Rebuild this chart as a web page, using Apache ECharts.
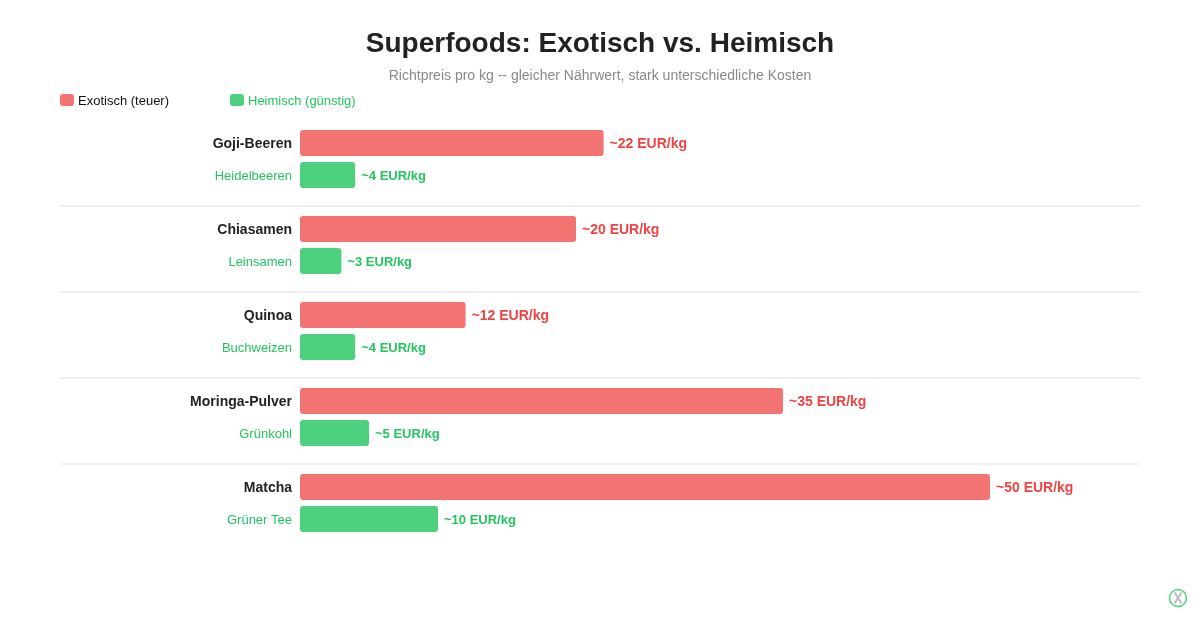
<!DOCTYPE html>
<html lang="de">
<head>
<meta charset="utf-8">
<title>Superfoods: Exotisch vs. Heimisch</title>
<script src="https://cdn.jsdelivr.net/npm/echarts@6/dist/echarts.min.js"></script>
<style>
  html, body { margin: 0; padding: 0; background: #fff; overflow: hidden; }
  #chart { width: 1200px; height: 624px; }
</style>
</head>
<body>
<div id="chart"></div>
<script>
// Preis pro kg, je Paar aus exotischem Superfood und heimischer Alternative
const exoticNames = ['Goji-Beeren', 'Chiasamen', 'Quinoa', 'Moringa-Pulver', 'Matcha'];
const exoticPrices = [22, 20, 12, 35, 50];
const localNames = ['Heidelbeeren', 'Leinsamen', 'Buchweizen', 'Grünkohl', 'Grüner Tee'];
const localPrices = [4, 3, 4, 5, 10];
const exoticLabel = 'Exotisch (teuer)';
const localLabel = 'Heimisch (günstig)';

const FONT = '"Liberation Sans", Arial, Helvetica, sans-serif';
const RED = '#ef4444';
const GREEN = '#22c55e';
const RED_BAR = 'rgba(239,68,68,0.75)';
const GREEN_BAR = 'rgba(34,197,94,0.8)';
const GROUP_TOP = 127, GROUP_STEP = 86, GROUP_HEIGHT = 64;

const chart = echarts.init(document.getElementById('chart'), null, { renderer: 'canvas' });

const grids = [], xAxes = [], yAxes = [], series = [], separators = [];

exoticNames.forEach((name, i) => {
  grids.push({ left: 300, width: 690, top: GROUP_TOP + i * GROUP_STEP, height: GROUP_HEIGHT });
  xAxes.push({ type: 'value', gridIndex: i, min: 0, max: 50, show: false });
  yAxes.push({
    type: 'category',
    gridIndex: i,
    inverse: true,
    axisLine: { show: false },
    axisTick: { show: false },
    axisLabel: {
      margin: 8,
      formatter: (value, index) => (index === 0 ? '{exotic|' : '{local|') + value + '}',
      rich: {
        exotic: { fontFamily: FONT, fontSize: 14, fontWeight: 'bold', color: '#222222', padding: [2, 0, 0, 0] },
        local: { fontFamily: FONT, fontSize: 13, color: GREEN, padding: [2, 0, 0, 0] }
      }
    },
    data: [name, localNames[i]]
  });

  const barSeries = (label, values, barColor, textColor, textSize) => ({
    name: label,
    type: 'bar',
    xAxisIndex: i,
    yAxisIndex: i,
    barWidth: 26,
    barGap: '-100%',
    silent: true,
    itemStyle: { color: barColor, borderRadius: 3 },
    label: {
      show: true,
      position: 'right',
      distance: 6,
      offset: [0, 1],
      fontFamily: FONT,
      fontSize: textSize,
      fontWeight: 'bold',
      color: textColor,
      formatter: p => '~' + p.value + ' EUR/kg'
    },
    data: values
  });
  series.push(barSeries(exoticLabel, [exoticPrices[i], '-'], RED_BAR, RED, 14));
  series.push(barSeries(localLabel, ['-', localPrices[i]], GREEN_BAR, GREEN, 13));

  // Trennlinie zwischen den Paaren
  if (i < exoticNames.length - 1) {
    const y = GROUP_TOP + i * GROUP_STEP + 79;
    separators.push({
      type: 'line',
      silent: true,
      shape: { x1: 60, y1: y, x2: 1140, y2: y },
      style: { stroke: '#f0f0f0', lineWidth: 2 }
    });
  }
});

const legendFor = (label, left, color) => ({
  top: 94,
  left,
  orient: 'horizontal',
  icon: 'roundRect',
  itemWidth: 14,
  itemHeight: 12,
  itemGap: 4,
  padding: 0,
  selectedMode: false,
  formatter: text => '{entry|' + text + '}',
  textStyle: {
    rich: {
      entry: { fontFamily: FONT, fontSize: 13, color, padding: [2, 0, 0, -1] }
    }
  },
  data: [label]
});

chart.setOption({
  animation: false,
  backgroundColor: '#ffffff',
  title: {
    text: 'Superfoods: Exotisch vs. Heimisch',
    subtext: 'Richtpreis pro kg -- gleicher Nährwert, stark unterschiedliche Kosten',
    left: 'center',
    top: 25,
    itemGap: 11,
    textStyle: { fontFamily: FONT, fontSize: 28, fontWeight: 'bold', color: '#222222' },
    subtextStyle: { fontFamily: FONT, fontSize: 14, color: '#888888' }
  },
  legend: [
    legendFor(exoticLabel, 60, '#111111'),
    legendFor(localLabel, 230, GREEN)
  ],
  grid: grids,
  xAxis: xAxes,
  yAxis: yAxes,
  series,
  graphic: separators.concat([
    // kleines Signet unten rechts
    {
      type: 'group',
      silent: true,
      children: [
        { type: 'circle', shape: { cx: 1178, cy: 598, r: 8.5 }, style: { fill: '#ffffff', stroke: '#4ed37f', lineWidth: 1.5 } },
        { type: 'line', shape: { x1: 1174.5, y1: 592.5, x2: 1181.5, y2: 603.5 }, style: { stroke: '#bdbdbd', lineWidth: 2 } },
        { type: 'line', shape: { x1: 1181.5, y1: 592.5, x2: 1174.5, y2: 603.5 }, style: { stroke: '#bdbdbd', lineWidth: 2 } }
      ]
    }
  ])
});
</script>
</body>
</html>
